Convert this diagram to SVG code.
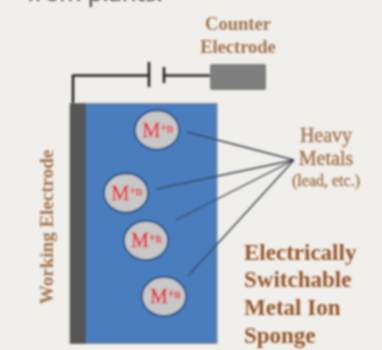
<svg xmlns="http://www.w3.org/2000/svg" width="382" height="350" viewBox="0 0 382 350">
<defs>
<filter id="s" x="-10%" y="-10%" width="120%" height="120%"><feGaussianBlur stdDeviation="0.9"/></filter>
</defs>
<style>
.t{font-family:"Liberation Serif","Times New Roman",serif;fill:#a3734c;text-anchor:middle}
.r{stroke:#a3734c;stroke-width:0.35}
.h{font-family:"Liberation Serif","Times New Roman",serif;font-weight:bold;font-size:23px;fill:#96572a}
.m{font-family:"Liberation Serif","Times New Roman",serif;fill:#e8262a;stroke:#e8262a;stroke-width:0.4;font-size:20px}
.m tspan{font-size:12px}
.c{fill:#c8c8c8;stroke:#264f80;stroke-width:1.8}
.w{fill:none;stroke:#262626;stroke-width:2.6}
.l{stroke:#3c4450;stroke-width:1.4}
</style>
<rect width="382" height="350" fill="#f0efeb"/>
<g filter="url(#s)">
<text x="27" y="1" font-family="Open Sans, sans-serif" font-size="24" fill="#333">from plants.</text>
<g id="panel">
<rect x="70" y="103.500" width="147" height="240" fill="#4a7dbd" stroke="#8b8b8b" stroke-width="1"/>
</g>
<g id="working-electrode">
<rect x="70" y="103.500" width="16" height="240" fill="#555"/>
<text class="t" transform="translate(53,227) rotate(-90)" font-size="19" font-weight="bold">Working Electrode</text>
</g>
<g id="counter-electrode">
<rect x="210" y="64" width="56" height="26" rx="2" fill="#7f7f7f"/>
<text class="t" x="238" y="30" font-size="18.500" font-weight="bold">Counter</text>
<text class="t" x="238" y="53" font-size="18.500" font-weight="bold">Electrode</text>
</g>
<g id="connectors">
<path class="w" d="M73 103V75.500H149"/>
<path class="w" d="M149 62V87"/>
<path class="w" d="M164 67V83"/>
<path class="w" d="M164 75.500H210"/>
<line class="l" x1="187" y1="132" x2="294" y2="160"/>
<line class="l" x1="156" y1="189" x2="294" y2="160"/>
<line class="l" x1="176" y1="220" x2="294" y2="160"/>
<line class="l" x1="188" y1="276" x2="294" y2="160"/>
</g>
<g id="ion-1"><ellipse class="c" cx="157" cy="130" rx="22" ry="19.500"/><text class="m" x="142.500" y="137">M<tspan dy="-5">+n</tspan></text></g>
<g id="ion-2"><ellipse class="c" cx="126" cy="193" rx="22" ry="19.500"/><text class="m" x="111.500" y="199.500">M<tspan dy="-5">+n</tspan></text></g>
<g id="ion-3"><ellipse class="c" cx="146" cy="240.500" rx="22" ry="19.500"/><text class="m" x="131" y="247">M<tspan dy="-5">+n</tspan></text></g>
<g id="ion-4"><ellipse class="c" cx="164" cy="296.500" rx="22" ry="19.500"/><text class="m" x="150" y="302.500">M<tspan dy="-5">+n</tspan></text></g>
<g id="heavy-metals">
<text class="t r" x="326" y="142" font-size="20">Heavy</text>
<text class="t r" x="326" y="165" font-size="20">Metals</text>
<text class="t r" x="326" y="186" font-size="16">(lead, etc.)</text>
</g>
<g id="sponge-label">
<text class="h" x="244" y="260">Electrically</text>
<text class="h" x="244" y="287">Switchable</text>
<text class="h" x="244" y="315">Metal Ion</text>
<text class="h" x="244" y="343">Sponge</text>
</g>
</g>
</svg>
